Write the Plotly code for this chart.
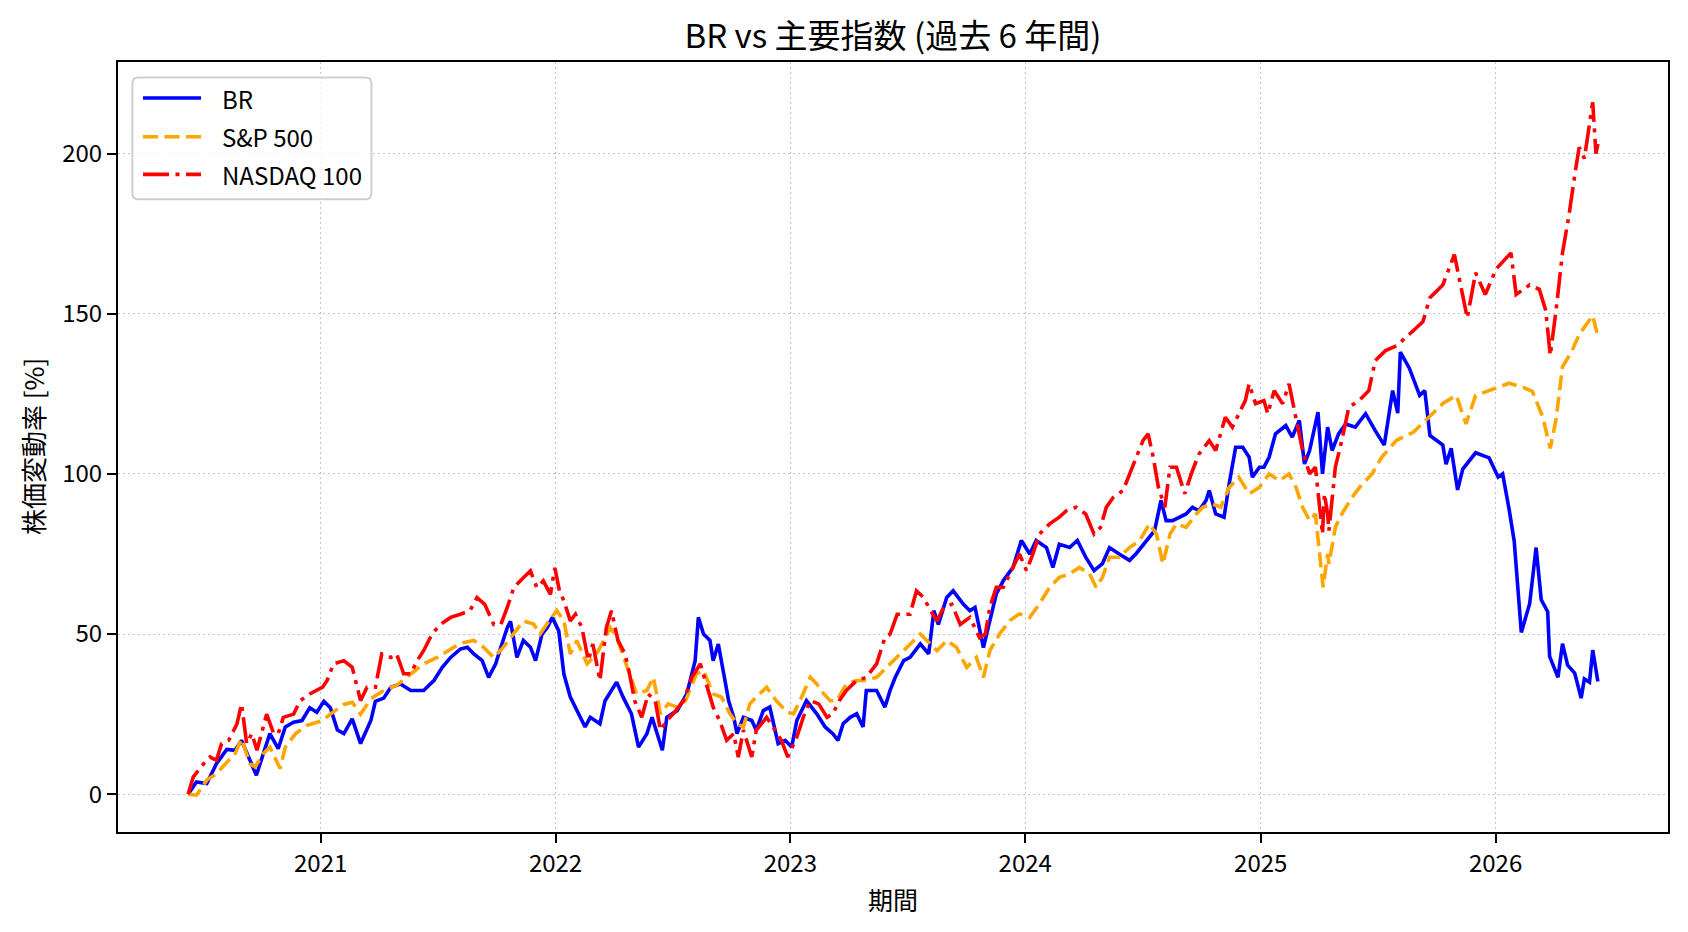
import plotly.graph_objects as go

# ---------------- data ----------------
br_dates = [
    "2020-06-09", "2020-06-22", "2020-07-08", "2020-07-23", "2020-08-08", "2020-08-21", "2020-08-31", "2020-09-11", "2020-09-23", "2020-10-04",
    "2020-10-14", "2020-10-27", "2020-11-07", "2020-11-20", "2020-12-03", "2020-12-15", "2020-12-26", "2021-01-06", "2021-01-16", "2021-01-27",
    "2021-02-06", "2021-02-19", "2021-03-04", "2021-03-20", "2021-03-27", "2021-04-09", "2021-04-20", "2021-05-05", "2021-05-21", "2021-06-10",
    "2021-06-26", "2021-07-09", "2021-07-22", "2021-08-06", "2021-08-17", "2021-08-27", "2021-09-09", "2021-09-19", "2021-09-30", "2021-10-08",
    "2021-10-18", "2021-10-23", "2021-11-02", "2021-11-12", "2021-11-23", "2021-12-01", "2021-12-11", "2021-12-19", "2021-12-27", "2022-01-06",
    "2022-01-14", "2022-01-24", "2022-02-03", "2022-02-16", "2022-02-24", "2022-03-11", "2022-03-19", "2022-04-06", "2022-04-16", "2022-04-29",
    "2022-05-10", "2022-05-23", "2022-05-31", "2022-06-16", "2022-06-23", "2022-07-09", "2022-07-24", "2022-08-06", "2022-08-11", "2022-08-19",
    "2022-08-29", "2022-09-03", "2022-09-11", "2022-09-19", "2022-09-27", "2022-10-05", "2022-10-10", "2022-10-20", "2022-11-02", "2022-11-09",
    "2022-11-20", "2022-11-30", "2022-12-13", "2022-12-24", "2023-01-03", "2023-01-11", "2023-01-21", "2023-01-26", "2023-02-11", "2023-02-24",
    "2023-03-08", "2023-03-16", "2023-03-24", "2023-04-04", "2023-04-14", "2023-04-24", "2023-04-29", "2023-05-15", "2023-05-28", "2023-06-05",
    "2023-06-13", "2023-06-26", "2023-07-06", "2023-07-22", "2023-08-04", "2023-08-12", "2023-08-19", "2023-09-01", "2023-09-11", "2023-09-27",
    "2023-10-07", "2023-10-15", "2023-10-28", "2023-11-07", "2023-11-17", "2023-11-28", "2023-12-13", "2023-12-26", "2024-01-08", "2024-01-18",
    "2024-02-03", "2024-02-13", "2024-02-23", "2024-03-10", "2024-03-22", "2024-04-04", "2024-04-17", "2024-04-30", "2024-05-11", "2024-05-26",
    "2024-06-11", "2024-06-21", "2024-07-07", "2024-07-20", "2024-07-30", "2024-08-07", "2024-08-17", "2024-08-27", "2024-09-07", "2024-09-17",
    "2024-09-27", "2024-10-08", "2024-10-13", "2024-10-23", "2024-11-05", "2024-11-13", "2024-11-23", "2024-12-04", "2024-12-14", "2024-12-19",
    "2024-12-30", "2025-01-06", "2025-01-14", "2025-01-24", "2025-02-09", "2025-02-19", "2025-03-02", "2025-03-10", "2025-03-18", "2025-03-31",
    "2025-04-07", "2025-04-15", "2025-04-22", "2025-05-02", "2025-05-13", "2025-05-28", "2025-06-13", "2025-06-28", "2025-07-12", "2025-07-25",
    "2025-08-02", "2025-08-06", "2025-08-20", "2025-09-05", "2025-09-13", "2025-09-21", "2025-10-11", "2025-10-16", "2025-10-24", "2025-11-03",
    "2025-11-11", "2025-12-01", "2025-12-22", "2026-01-05", "2026-01-12", "2026-01-22", "2026-01-30", "2026-02-10", "2026-02-23", "2026-03-05",
    "2026-03-13", "2026-03-23", "2026-03-26", "2026-04-08", "2026-04-15", "2026-04-23", "2026-05-04", "2026-05-14", "2026-05-19", "2026-05-27",
    "2026-06-01", "2026-06-09",
]
br_values = [
    0, 3.8, 3.3, 9.5, 14, 13.7, 16.8, 11.6, 5.9, 12.7,
    18.9, 14.2, 21, 22.5, 23, 27, 25.6, 29, 27, 20,
    18.9, 23.5, 15.8, 23, 29, 30, 33.4, 34.4, 32.4, 32.4,
    35.5, 39.6, 42.7, 45.3, 45.9, 43.8, 41.7, 36.5, 40.7, 45.9,
    52, 54, 42.7, 48, 45.9, 41.7, 50, 52, 55.2, 51,
    37.5, 30.3, 26, 21, 24, 22, 29.2, 35, 30.3, 25.1,
    14.7, 18.9, 24, 13.7, 24, 26.1, 31.3, 41.7, 55.2, 50,
    48, 41.7, 46.9, 37.6, 29.2, 24, 18.9, 24, 23, 20,
    26.1, 27.2, 15.8, 16.8, 14.7, 23, 27.2, 29.2, 25.1, 21,
    18.9, 16.8, 22, 24, 25.1, 21, 32.4, 32.4, 27.2, 32.4,
    36.5, 41.7, 42.7, 46.9, 43.8, 57.3, 53, 61.4, 63.5, 59.3,
    57.3, 58.3, 45.8, 54.2, 62.5, 66.7, 70.8, 79.2, 75, 79.2,
    77, 70.8, 78, 77, 79.2, 74, 69.8, 72, 77, 75,
    73, 75, 79.2, 82.3, 91.7, 85.4, 85.4, 86.5, 87.5, 89.6,
    88.5, 91.7, 94.8, 87.5, 86.5, 96.9, 108.3, 108.3, 105.2, 99,
    102.1, 102.1, 105.2, 112.5, 115.1, 111.5, 116.7, 103.1, 107.3, 119.3,
    100, 114.6, 107.3, 112.5, 115.6, 114.6, 118.8, 113.5, 109, 126,
    119, 138, 133, 124.5, 126, 112, 109, 103, 108, 95,
    101.5, 106.6, 105, 99, 100, 89, 79, 50.5, 59.5, 77,
    60.7, 57, 43, 36.5, 47, 40.3, 37.8, 30, 36, 35,
    45, 35.2,
]

sp_dates = [
    "2020-06-09", "2020-06-22", "2020-07-08", "2020-07-23", "2020-08-06", "2020-08-21", "2020-08-31", "2020-09-13", "2020-09-21", "2020-10-04",
    "2020-10-14", "2020-10-30", "2020-11-07", "2020-11-23", "2020-12-11", "2021-01-04", "2021-01-16", "2021-01-27", "2021-02-06", "2021-02-19",
    "2021-03-04", "2021-03-20", "2021-04-09", "2021-04-29", "2021-05-21", "2021-06-10", "2021-07-01", "2021-07-27", "2021-08-12", "2021-08-27",
    "2021-09-11", "2021-09-27", "2021-10-12", "2021-10-28", "2021-11-12", "2021-11-28", "2021-12-08", "2021-12-24", "2022-01-03", "2022-01-14",
    "2022-01-24", "2022-02-03", "2022-02-19", "2022-03-06", "2022-03-16", "2022-03-27", "2022-04-06", "2022-04-21", "2022-05-07", "2022-05-23",
    "2022-06-02", "2022-06-13", "2022-06-25", "2022-07-09", "2022-07-22", "2022-08-08", "2022-08-19", "2022-09-03", "2022-09-16", "2022-09-29",
    "2022-10-10", "2022-10-20", "2022-10-30", "2022-11-09", "2022-11-25", "2022-12-10", "2022-12-27", "2023-01-06", "2023-01-16", "2023-02-01",
    "2023-02-11", "2023-02-22", "2023-03-04", "2023-03-14", "2023-03-29", "2023-04-14", "2023-04-29", "2023-05-15", "2023-06-05", "2023-06-26",
    "2023-07-11", "2023-07-22", "2023-08-01", "2023-08-17", "2023-09-01", "2023-09-16", "2023-10-02", "2023-10-17", "2023-10-28", "2023-11-07",
    "2023-11-22", "2023-12-08", "2023-12-23", "2024-01-08", "2024-01-23", "2024-02-08", "2024-02-23", "2024-03-10", "2024-03-25", "2024-04-10",
    "2024-04-20", "2024-04-30", "2024-05-11", "2024-05-26", "2024-06-11", "2024-06-27", "2024-07-12", "2024-07-23", "2024-08-02", "2024-08-13",
    "2024-08-23", "2024-09-07", "2024-09-23", "2024-10-03", "2024-10-18", "2024-10-31", "2024-11-13", "2024-11-28", "2024-12-14", "2024-12-30",
    "2025-01-14", "2025-01-30", "2025-02-14", "2025-02-25", "2025-03-07", "2025-03-18", "2025-03-27", "2025-04-08", "2025-04-15", "2025-04-17",
    "2025-04-27", "2025-05-07", "2025-05-23", "2025-06-08", "2025-06-23", "2025-07-08", "2025-07-31", "2025-08-26", "2025-09-21", "2025-10-11",
    "2025-11-01", "2025-11-16", "2025-12-01", "2026-01-02", "2026-01-22", "2026-02-13", "2026-02-27", "2026-03-15", "2026-03-27", "2026-04-05",
    "2026-04-15", "2026-04-30", "2026-05-11", "2026-06-01", "2026-06-09",
]
sp_values = [
    0, -0.3, 4.4, 6.4, 9.5, 12.7, 17.3, 9.5, 8.5, 12.7,
    14.7, 8, 14.7, 18.9, 21.5, 23, 25, 26.7, 28, 28.7,
    25, 29.8, 32.4, 34, 37.6, 40.7, 42.7, 45.9, 47.4, 48,
    45.9, 42.7, 45.9, 50, 54.1, 53.1, 50, 54.7, 57.3, 54.1,
    43.8, 48, 40.7, 43.8, 48, 52, 49, 40.7, 31.3, 32.4,
    36.5, 25.1, 28.2, 27.2, 29.2, 37.6, 38.6, 31.3, 30.3, 25.1,
    22, 21, 28.2, 30.3, 33.4, 29.2, 25.6, 25.1, 29.2, 36.5,
    34.4, 31.3, 29.2, 29.2, 34.4, 35.5, 35.5, 36.5, 40.7, 44.8,
    48, 50, 48, 44.8, 48, 45.9, 39.6, 42.7, 36.5, 44.8,
    50, 54.2, 56.3, 55.2, 59.4, 64.6, 67.7, 68.8, 70.8, 68.8,
    64.6, 67.7, 74, 74, 77, 79.2, 84.4, 81.2, 71.9, 81.2,
    84.4, 83.3, 87.5, 89.6, 90.6, 89.6, 95.8, 99, 93.8, 95.8,
    100, 97.9, 100, 95.8, 89.6, 85.4, 87.5, 64.6, 75, 71.9,
    83.3, 87.5, 92.7, 96.9, 100, 105.2, 110.5, 113, 118, 122,
    124.5, 115.6, 124.5, 127, 128.3, 127, 125.8, 118, 108, 117,
    133.4, 138.5, 143.6, 149.4, 143,
]

nq_dates = [
    "2020-06-09", "2020-06-17", "2020-07-03", "2020-07-13", "2020-07-23", "2020-07-31", "2020-08-11", "2020-08-24", "2020-08-31", "2020-09-08",
    "2020-09-16", "2020-09-24", "2020-10-01", "2020-10-09", "2020-10-20", "2020-10-27", "2020-11-04", "2020-11-20", "2020-11-30", "2020-12-15",
    "2021-01-04", "2021-01-11", "2021-01-21", "2021-02-06", "2021-02-19", "2021-03-04", "2021-03-14", "2021-03-27", "2021-04-06", "2021-04-20",
    "2021-04-29", "2021-05-10", "2021-05-21", "2021-05-31", "2021-06-10", "2021-06-23", "2021-07-06", "2021-07-22", "2021-08-06", "2021-08-21",
    "2021-09-01", "2021-09-13", "2021-09-27", "2021-10-08", "2021-10-18", "2021-10-28", "2021-11-12", "2021-11-23", "2021-12-03", "2021-12-13",
    "2021-12-24", "2021-12-31", "2022-01-07", "2022-01-14", "2022-01-24", "2022-02-01", "2022-02-11", "2022-02-21", "2022-02-28", "2022-03-11",
    "2022-03-21", "2022-03-29", "2022-04-08", "2022-04-19", "2022-04-26", "2022-05-04", "2022-05-15", "2022-05-25", "2022-06-05", "2022-06-13",
    "2022-06-23", "2022-07-03", "2022-07-19", "2022-08-01", "2022-08-14", "2022-08-24", "2022-09-03", "2022-09-13", "2022-09-24", "2022-10-05",
    "2022-10-12", "2022-10-20", "2022-11-02", "2022-11-09", "2022-11-25", "2022-12-05", "2022-12-18", "2022-12-28", "2023-01-11", "2023-01-21",
    "2023-02-01", "2023-02-14", "2023-02-27", "2023-03-08", "2023-03-18", "2023-03-29", "2023-04-14", "2023-04-29", "2023-05-15", "2023-05-28",
    "2023-06-05", "2023-06-16", "2023-06-26", "2023-07-06", "2023-07-16", "2023-07-27", "2023-08-07", "2023-08-17", "2023-08-27", "2023-09-09",
    "2023-09-22", "2023-10-07", "2023-10-22", "2023-10-31", "2023-11-07", "2023-11-17", "2023-11-28", "2023-12-13", "2023-12-23", "2024-01-03",
    "2024-01-13", "2024-01-23", "2024-02-08", "2024-02-23", "2024-03-05", "2024-03-20", "2024-04-04", "2024-04-17", "2024-04-27", "2024-05-06",
    "2024-05-17", "2024-06-01", "2024-06-11", "2024-06-21", "2024-07-02", "2024-07-10", "2024-07-18", "2024-07-26", "2024-08-05", "2024-08-13",
    "2024-08-23", "2024-09-05", "2024-09-15", "2024-09-27", "2024-10-13", "2024-10-23", "2024-10-31", "2024-11-07", "2024-11-18", "2024-11-28",
    "2024-12-08", "2024-12-14", "2024-12-24", "2025-01-06", "2025-01-12", "2025-01-22", "2025-02-04", "2025-02-14", "2025-02-25", "2025-03-07",
    "2025-03-18", "2025-03-27", "2025-04-07", "2025-04-10", "2025-04-15", "2025-04-17", "2025-04-27", "2025-05-07", "2025-05-18", "2025-06-03",
    "2025-06-18", "2025-06-28", "2025-07-14", "2025-07-31", "2025-08-20", "2025-09-10", "2025-09-21", "2025-10-11", "2025-10-29", "2025-11-18",
    "2025-12-01", "2025-12-16", "2026-01-02", "2026-01-25", "2026-02-02", "2026-02-23", "2026-03-10", "2026-03-20", "2026-03-27", "2026-04-05",
    "2026-04-15", "2026-04-25", "2026-05-05", "2026-05-11", "2026-05-19", "2026-06-01", "2026-06-06", "2026-06-09",
]
nq_values = [
    0, 5.4, 9.5, 11.6, 10.6, 15.8, 16.8, 22, 28.2, 15.8,
    18.9, 13.7, 18.9, 25, 18.9, 18.9, 24, 25, 29.2, 31.3,
    33.4, 35.5, 40.7, 41.7, 39.6, 29.2, 33.4, 33.4, 43.8, 42.7,
    43.8, 37.6, 37.6, 41.7, 44.8, 50, 53, 55.2, 56.2, 57.3,
    61.4, 59.3, 53, 53, 58.3, 64.5, 67.6, 69.7, 64.5, 66.6,
    62.4, 70.7, 63.5, 60.4, 54.1, 56.2, 52, 41.7, 46.9, 35.5,
    52, 57.3, 48, 43.8, 37.6, 29.2, 24, 31.3, 29.2, 20,
    23, 25.1, 29.2, 36.5, 40.7, 34.4, 27.2, 23, 16.8, 18.9,
    11.6, 20, 11.6, 20, 24, 21, 16.8, 11.6, 17.8, 24,
    29.2, 28.2, 24, 25.1, 29.2, 32.4, 35.5, 36.5, 40.7, 48.9,
    50, 56.2, 56.2, 56.2, 63.5, 61.4, 57.3, 54.1, 58.3, 59.3,
    53, 55.2, 48.9, 50, 58.3, 64.6, 64.6, 70.8, 75, 69.8,
    75, 81.2, 84.4, 86.5, 88.5, 89.6, 87.5, 81.2, 83.3, 89.6,
    92.7, 94.8, 100, 105.2, 110.4, 112.5, 105.2, 95.8, 89.6, 102.1,
    102.1, 93.8, 100, 106.2, 110.4, 107.3, 112.5, 117.7, 114.6, 118.8,
    122.9, 128.1, 121.9, 122.9, 118.8, 126, 121.9, 128.1, 117.7, 107.3,
    100, 102.1, 81.2, 93.8, 87.5, 82.3, 102.1, 110.4, 120.8, 122.9,
    126, 135.4, 138.5, 140, 143.6, 147.5, 155, 159, 168.5, 148.7,
    162.8, 156, 164, 169, 156, 159, 157.6, 151, 137, 151,
    169, 180.6, 194.6, 202, 198.5, 216, 200, 203,
]

series_names = ["BR", "S&P 500", "NASDAQ 100"]
year_ticks = ["2021-01-01", "2022-01-01", "2023-01-01", "2024-01-01", "2025-01-01", "2026-01-01"]
year_labels = ["2021", "2022", "2023", "2024", "2025", "2026"]
y_ticks = [0, 50, 100, 150, 200]

# ---------------- styling ----------------
FONT = "Noto Sans CJK JP"
W, H = 1688, 932
ML, MR, MT, MB = 118, 20, 62, 100
PW, PH = W - ML - MR, H - MT - MB

colors = ["#0000ff", "#ffa500", "#ff0000"]
dashes = ["solid", "15px,6.5px", "26px,6.5px,4px,6.5px"]
LW = 3.6


def px_x(x):
    return (x - ML) / PW


def px_y(y):
    return 1 - (y - MT) / PH


fig = go.Figure()
for dates, vals, name, col, dsh in zip(
    [br_dates, sp_dates, nq_dates], [br_values, sp_values, nq_values],
    series_names, colors, dashes,
):
    fig.add_trace(go.Scatter(x=dates, y=vals, mode="lines", name=name,
                             showlegend=False,
                             line=dict(color=col, width=LW, dash=dsh)))

axis_common = dict(
    showline=True, linecolor="black", linewidth=2, mirror=True,
    ticks="outside", ticklen=9, tickwidth=2, tickcolor="black",
    showgrid=True, gridcolor="#c4c4c4", gridwidth=1.3, griddash="2px,3px",
    zeroline=False, tickfont=dict(family=FONT, size=24, color="black"),
)

# ---- legend drawn as a framed box (matplotlib style) ----
bx0, bx1, by0, by1, r = px_x(132.4), px_x(371.4), px_y(199.2), px_y(77.5), 6
rx, ry = r / PW, r / PH
box_path = (
    f"M {bx0 + rx},{by1} L {bx1 - rx},{by1} Q {bx1},{by1} {bx1},{by1 - ry} "
    f"L {bx1},{by0 + ry} Q {bx1},{by0} {bx1 - rx},{by0} "
    f"L {bx0 + rx},{by0} Q {bx0},{by0} {bx0},{by0 + ry} "
    f"L {bx0},{by1 - ry} Q {bx0},{by1} {bx0 + rx},{by1} Z"
)
shapes = [dict(type="path", xref="paper", yref="paper", path=box_path,
               fillcolor="rgba(255,255,255,0.8)", line=dict(color="#d0d0d0", width=2),
               layer="above")]
annotations = []
legend_rows = [98, 136.7, 174.4]
for row_y, name, col, dsh in zip(legend_rows, series_names, colors, dashes):
    shapes.append(dict(type="line", xref="paper", yref="paper",
                       x0=px_x(143), x1=px_x(201), y0=px_y(row_y), y1=px_y(row_y),
                       line=dict(color=col, width=LW, dash=dsh), layer="above"))
    annotations.append(dict(text=name, xref="paper", yref="paper",
                            x=px_x(220), y=px_y(row_y), xanchor="left", yanchor="middle",
                            showarrow=False, font=dict(family=FONT, size=24, color="black")))

annotations += [
    dict(text="期間", xref="paper", yref="paper", x=0.5, y=px_y(899),
         xanchor="center", yanchor="middle", showarrow=False,
         font=dict(family=FONT, size=25, color="black")),
    dict(text="株価変動率 [%]", xref="paper", yref="paper", x=px_x(32), y=0.5,
         xanchor="center", yanchor="middle", textangle=-90, showarrow=False,
         font=dict(family=FONT, size=26, color="black")),
]

fig.update_layout(
    width=W, height=H,
    paper_bgcolor="white", plot_bgcolor="white",
    margin=dict(l=ML, r=MR, t=MT, b=MB),
    font=dict(family=FONT, color="black"),
    title=dict(text="BR vs 主要指数 (過去 6 年間)", x=0.5, xref="paper", xanchor="center",
               y=1 - 36 / H, yref="container", yanchor="middle",
               font=dict(family=FONT, size=33, color="black")),
    xaxis=dict(range=["2020-02-21", "2026-09-26"], tickvals=year_ticks, ticktext=year_labels,
               type="date", **axis_common),
    yaxis=dict(range=[-11.8, 228.6], tickvals=y_ticks, **axis_common),
    showlegend=False,
    shapes=shapes,
    annotations=annotations,
)

fig.write_html("out.html")
